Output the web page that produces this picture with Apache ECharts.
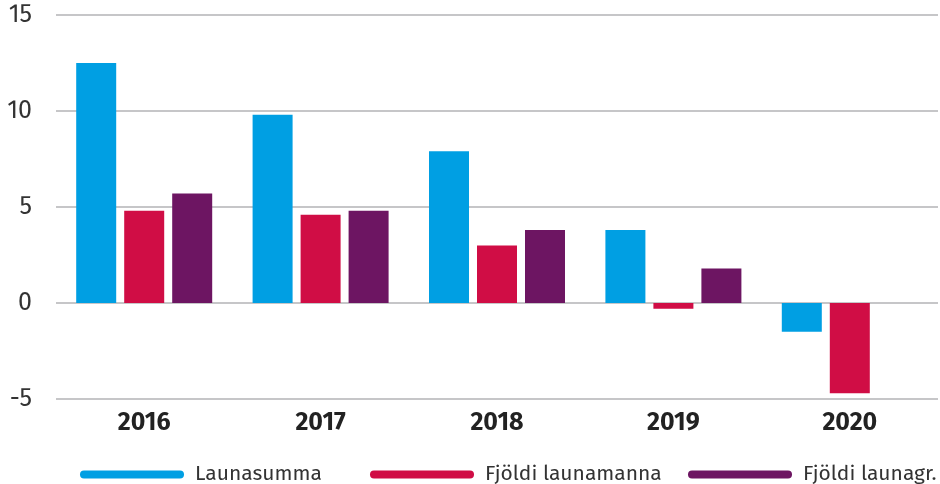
<!DOCTYPE html>
<html>
<head>
<meta charset="utf-8">
<script src="https://cdn.jsdelivr.net/npm/echarts@6/dist/echarts.min.js"></script>
<style>
  html, body { margin: 0; padding: 0; background: #fff; }
  #main { width: 940px; height: 484px; }
</style>
</head>
<body>
<div id="main"></div>
<script>
var years = ['2016', '2017', '2018', '2019', '2020'];
var launasumma = [12.5, 9.8, 7.9, 3.8, -1.5];
var fjoldiManna = [4.8, 4.6, 3.0, -0.3, -4.7];
var fjoldiAgr = [5.7, 4.8, 3.8, 1.8, null];
var names = ['Launasumma', 'Fjöldi launamanna', 'Fjöldi launagr.'];

var font = '"Fira Sans", "Open Sans", sans-serif';
var pill = 'path://M4,0 H100 A4,4 0 0 1 100,8 H4 A4,4 0 0 1 4,0 Z';

// one legend per item, the original spaces them unevenly
var legendLeft = [75, 365, 683];
var legends = names.map(function (n, i) {
    return {
        left: legendLeft[i],
        top: 459,
        itemWidth: 104,
        itemHeight: 8,
        icon: pill,
        textStyle: { fontFamily: font, fontSize: 21, color: '#333', padding: [0, 0, 0, 6] },
        data: [n]
    };
});

var myChart = echarts.init(document.getElementById('main'));

myChart.setOption({
    backgroundColor: '#fff',
    animation: false,
    grid: { left: 56, right: 2, top: 15, bottom: 85, containLabel: false },
    legend: legends,
    xAxis: {
        type: 'category',
        data: years,
        axisLine: { show: false },
        axisTick: { show: false },
        axisLabel: { fontFamily: font, fontSize: 25, fontWeight: 'bold', color: '#222', margin: 12 }
    },
    yAxis: {
        type: 'value',
        min: -5,
        max: 15,
        interval: 5,
        axisLabel: { fontFamily: font, fontSize: 25, color: '#333', margin: 24 },
        splitLine: { lineStyle: { color: '#c6c6c8', width: 2 } }
    },
    series: [
        { name: names[0], type: 'bar', data: launasumma, barWidth: 40, barGap: '20%', itemStyle: { color: '#009fe3' } },
        { name: names[1], type: 'bar', data: fjoldiManna, barWidth: 40, itemStyle: { color: '#d00d45' } },
        { name: names[2], type: 'bar', data: fjoldiAgr, barWidth: 40, itemStyle: { color: '#6d1562' } }
    ]
});
</script>
</body>
</html>
